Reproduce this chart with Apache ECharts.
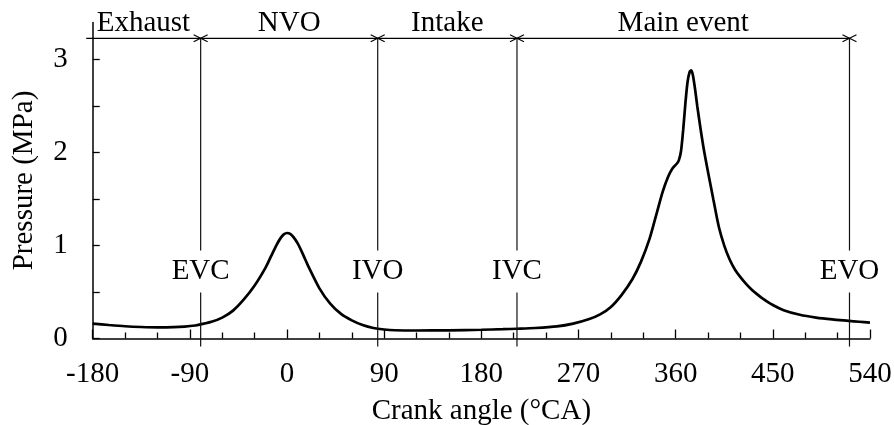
<!DOCTYPE html>
<html>
<head>
<meta charset="utf-8">
<script src="https://cdn.jsdelivr.net/npm/echarts@6.0.0/dist/echarts.min.js"></script>
<style>
  html, body { margin: 0; padding: 0; background: #fff; }
  #chart { width: 894px; height: 425px; }
</style>
</head>
<body>
<div id="chart"></div>
<script>
// In-cylinder pressure trace over one engine cycle (crank angle in °CA, pressure in MPa)
const crankAngle = [
  -180, -165, -150, -135, -120, -105, -95, -85, -80, -70, -60, -50, -40, -30, -20, -15, -10, -6, -3, 0,
  3, 6, 10, 15, 20, 30, 40, 50, 60, 70, 80, 90, 100, 120, 150, 180, 200, 213, 230, 250, 265, 280,
  290, 300, 310, 320, 328, 336, 342, 348, 353, 357, 361, 363, 365, 367, 369, 371, 373, 374.5,
  376, 378, 380, 383, 386, 390, 395, 400, 405, 410, 415, 420, 425, 430, 435, 440, 450, 460,
  475, 490, 505, 520, 530, 540
];
const pressure = [
  0.16, 0.145, 0.132, 0.124, 0.12, 0.122, 0.128, 0.14, 0.152, 0.18, 0.225, 0.30, 0.42, 0.57, 0.76, 0.88, 1.00, 1.08, 1.12, 1.135,
  1.125, 1.09, 1.02, 0.90, 0.77, 0.54, 0.375, 0.265, 0.195, 0.145, 0.113, 0.097, 0.089, 0.086, 0.088, 0.094, 0.10, 0.105, 0.113, 0.13, 0.16, 0.21,
  0.26, 0.34, 0.47, 0.64, 0.83, 1.08, 1.33, 1.58, 1.74, 1.83, 1.88, 1.92, 2.02, 2.25, 2.53, 2.76, 2.87, 2.885,
  2.83, 2.68, 2.50, 2.26, 2.04, 1.79, 1.49, 1.20, 1.00, 0.85, 0.74, 0.66, 0.59, 0.53, 0.48, 0.435, 0.36, 0.305,
  0.255, 0.225, 0.205, 0.19, 0.18, 0.17
];

// Valve events (°CA)
const eventNames = ['EVC', 'IVO', 'IVC', 'EVO'];
const eventAngles = [-80, 84, 213, 521];

// Cycle phases, bounded by the valve events
const phaseNames = ['Exhaust', 'NVO', 'Intake', 'Main event'];
const phaseStart = -186;
const phaseEnd = 545.5;

// Axis ticks
const xTicks = [-180, -90, 0, 90, 180, 270, 360, 450, 540];
const yTickValues = [0, 0.5, 1, 1.5, 2, 2.5, 3];
const yLabelValues = [0, 1, 2, 3];

const FONT = '"Liberation Serif", "Times New Roman", serif';
const FS = 29;
const BRACKET_LEVEL = 3.23;   // pressure level of the phase bracket line
const EVENT_LABEL_LEVEL = 0.72;

const chart = echarts.init(document.getElementById('chart'), null, { renderer: 'canvas' });

const tracePoints = crankAngle.map((a, i) => [a, pressure[i]]);
const phaseBounds = [phaseStart].concat(eventAngles, [phaseEnd]);

function arrowHead(x, y, dir) {
  // dir = -1: head pointing right (arm to the left); dir = +1: head pointing left
  return {
    type: 'polyline',
    shape: { points: [[x + dir * 7, y - 3.5], [x, y], [x + dir * 7, y + 3.5]] },
    style: { stroke: '#000', lineWidth: 1.1, fill: null }
  };
}

const option = {
  animation: false,
  backgroundColor: '#fff',
  grid: { left: 92.7, right: 24, top: 22.5, bottom: 86.5, containLabel: false, outerBoundsMode: 'none' },
  xAxis: {
    type: 'value',
    min: -180, max: 540, interval: 90,
    name: 'Crank angle (°CA)',
    nameLocation: 'middle',
    nameGap: 58,
    nameTextStyle: { fontFamily: FONT, fontSize: FS, color: '#000' },
    axisLine: { show: true, onZero: false, lineStyle: { color: '#000', width: 1.5 } },
    axisTick: { show: true, inside: true, length: 9, lineStyle: { color: '#000', width: 1.3 },
                customValues: xTicks },
    minorTick: { show: true, splitNumber: 3, length: 6, lineStyle: { color: '#000', width: 1.3 } },
    splitLine: { show: false },
    minorSplitLine: { show: false },
    axisLabel: { fontFamily: FONT, fontSize: FS, color: '#000', margin: 21,
                 customValues: xTicks }
  },
  yAxis: {
    type: 'value',
    min: 0, max: 3.4, interval: 0.5,
    name: 'Pressure (MPa)',
    nameLocation: 'middle',
    nameGap: 54,
    nameTextStyle: { fontFamily: FONT, fontSize: FS, color: '#000' },
    axisLine: { show: true, onZero: false, lineStyle: { color: '#000', width: 1.5 } },
    axisTick: { show: true, inside: true, length: 7, lineStyle: { color: '#000', width: 1.3 },
                customValues: yTickValues },
    splitLine: { show: false },
    axisLabel: { fontFamily: FONT, fontSize: FS, color: '#000', margin: 25,
                 customValues: yLabelValues }
  },
  series: [
    {
      type: 'line',
      data: tracePoints,
      showSymbol: false,
      smooth: 0.25,
      lineStyle: { color: '#000', width: 2.7 },
      z: 3
    },
    {
      // phase bracket segments and phase names
      type: 'custom',
      clip: false,
      z: 4,
      data: phaseNames.map((n, i) => [phaseBounds[i], phaseBounds[i + 1], i]),
      renderItem: function (params, api) {
        const p0 = api.coord([api.value(0), BRACKET_LEVEL]);
        const p1 = api.coord([api.value(1), BRACKET_LEVEL]);
        const name = phaseNames[api.value(2)];
        return {
          type: 'group',
          children: [
            { type: 'line', shape: { x1: p0[0], y1: p0[1], x2: p1[0], y2: p1[1] },
              style: { stroke: '#000', lineWidth: 1.3 } },
            { type: 'text',
              style: { text: name, x: (p0[0] + p1[0]) / 2, y: p0[1] - 15,
                       fill: '#000', fontFamily: FONT, fontSize: FS,
                       align: 'center', verticalAlign: 'middle' } }
          ]
        };
      }
    },
    {
      // valve event lines with labels and arrow heads on the bracket
      type: 'custom',
      clip: false,
      z: 5,
      data: eventAngles.map((a, i) => [a, i]),
      renderItem: function (params, api) {
        const top = api.coord([api.value(0), BRACKET_LEVEL]);
        const base = api.coord([api.value(0), 0]);
        const lab = api.coord([api.value(0), EVENT_LABEL_LEVEL]);
        const x = top[0];
        return {
          type: 'group',
          children: [
            { type: 'line', shape: { x1: x, y1: top[1], x2: x, y2: base[1] + 8 },
              style: { stroke: '#111', lineWidth: 1.2 } },
            arrowHead(x, top[1], -1),
            arrowHead(x, top[1], 1),
            { type: 'text',
              style: { text: eventNames[api.value(1)], x: x, y: lab[1],
                       fill: '#000', fontFamily: FONT, fontSize: FS,
                       align: 'center', verticalAlign: 'middle',
                       backgroundColor: '#fff', padding: [10, 0], lineHeight: 22 } }
          ]
        };
      }
    }
  ]
};

chart.setOption(option);
</script>
</body>
</html>
